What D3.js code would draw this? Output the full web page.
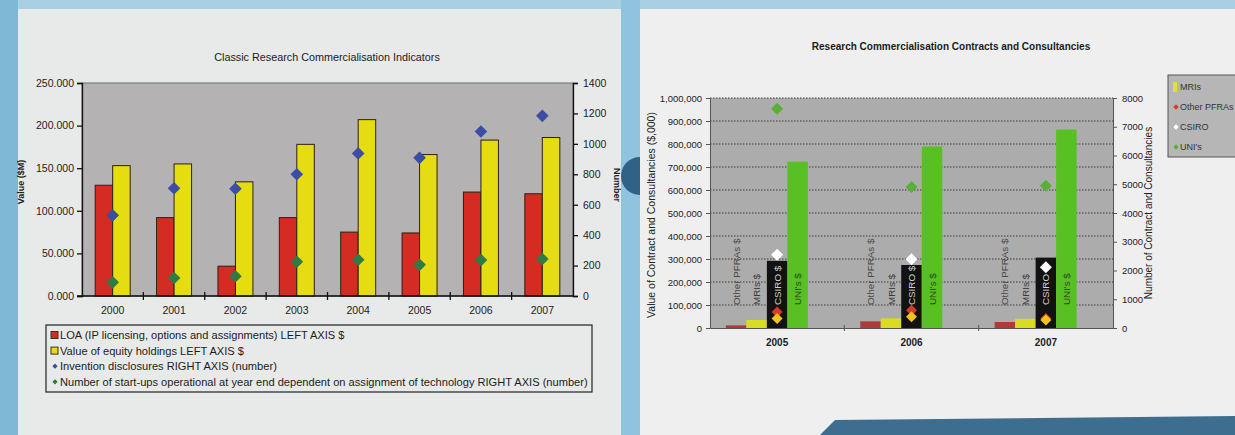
<!DOCTYPE html>
<html>
 <head>
  <meta charset="utf-8">
  <title>Research commercialisation charts</title>
  <script src="https://cdnjs.cloudflare.com/ajax/libs/d3/7.8.5/d3.min.js"></script>
  <style>
    body { margin: 0; background: #e9eaea; }
    svg { display: block; font-family: "Liberation Sans", Arial, sans-serif; }
  </style>
 </head>
 <body>
  <div id="page"></div>

  <script>
    // ---- chart 1 : classic indicators ----
    var years1 = ["2000", "2001", "2002", "2003", "2004", "2005", "2006", "2007"];
    var loa = [130, 92, 35, 92, 75, 74, 122, 120];               // $M, left axis
    var equity = [153, 155, 134, 178, 207, 166, 183, 186];       // $M, left axis
    var disclosures = [530, 708, 705, 800, 937, 908, 1081, 1184]; // number, right axis
    var startups = [90, 118, 130, 225, 238, 205, 236, 243];      // number, right axis
    var leftTicks1 = [0, 50, 100, 150, 200, 250];
    var rightTicks1 = [0, 200, 400, 600, 800, 1000, 1200, 1400];
    var legend1 = [
      "LOA (IP licensing, options and assignments) LEFT AXIS $",
      "Value of equity holdings LEFT AXIS $",
      "Invention disclosures RIGHT AXIS (number)",
      "Number of start-ups operational at year end dependent on assignment of technology RIGHT AXIS (number)"
    ];

    // ---- chart 2 : contracts and consultancies ----
    var years2 = ["2005", "2006", "2007"];
    var series2 = ["Other PFRAs", "MRIs", "CSIRO", "UNI's"];
    var barLabels2 = ["Other PFRAs $", "MRIs $", "CSIRO $", "UNI's $"];
    var otherValue = [11500, 29000, 26000];     // $,000
    var mriValue = [35000, 42000, 40000];
    var csiroValue = [292000, 274000, 306000];
    var uniValue = [723000, 789000, 863000];
    var otherCount = [560, 620, 330];           // number
    var mriCount = [330, 390, 280];
    var csiroCount = [2550, 2390, 2110];
    var uniCount = [7630, 4900, 4950];
    var leftTicks2 = [0, 100000, 200000, 300000, 400000, 500000, 600000, 700000, 800000, 900000, 1000000];
    var rightTicks2 = [0, 1000, 2000, 3000, 4000, 5000, 6000, 7000, 8000];
    var legend2 = ["MRIs", "Other PFRAs", "CSIRO", "UNI's"];

    var W = 1235, H = 435;
    var svg = d3.select("#page").append("svg")
                .attr("width", W).attr("height", H);

    // page background (scanned magazine page)
    svg.append("rect").attr("width", W).attr("height", H).attr("fill", "#e8e9e9");
    svg.append("rect").attr("x", 640).attr("width", W - 640).attr("height", H).attr("fill", "#efefef");
    svg.append("rect").attr("width", W).attr("height", 9).attr("fill", "#a9cfe3");
    svg.append("rect").attr("width", 18).attr("height", H).attr("fill", "#7db8d6");
    svg.append("rect").attr("x", 621).attr("width", 19).attr("height", H).attr("fill", "#8fc3de");
    svg.append("path").attr("d", d3.arc()({innerRadius: 0, outerRadius: 19, startAngle: Math.PI, endAngle: 2 * Math.PI}))
       .attr("transform", "translate(640,176)").attr("fill", "#2f6286");
    svg.append("path").attr("d", "M820,435 L835,420 L1235,416 L1235,435 Z").attr("fill", "#3d6e90");

    // =====================================================
    // chart 1
    // =====================================================
    var c1 = {left: 82, right: 573, top: 83, bottom: 296};
    var g1 = svg.append("g");

    var x1 = d3.scaleBand().domain(years1).range([c1.left, c1.right])
               .paddingInner(0.43).paddingOuter(0.215);
    var xSub1 = d3.scaleBand().domain(["loa", "equity"]).range([0, x1.bandwidth()]);
    var yL1 = d3.scaleLinear().domain([0, 250]).range([c1.bottom, c1.top]);
    var yR1 = d3.scaleLinear().domain([0, 1400]).range([c1.bottom, c1.top]);

    g1.append("text").attr("x", 327).attr("y", 61).attr("text-anchor", "middle")
      .attr("font-size", 10.8).attr("fill", "#222")
      .text("Classic Research Commercialisation Indicators");

    g1.append("rect").attr("x", c1.left).attr("y", c1.top)
      .attr("width", c1.right - c1.left).attr("height", c1.bottom - c1.top)
      .attr("fill", "#b4b2b3").attr("stroke", "#6d6d6d");

    var barData1 = [];
    years1.forEach(function(y, i) {
      barData1.push({year: y, key: "loa", v: loa[i], fill: "#d42b22"});
      barData1.push({year: y, key: "equity", v: equity[i], fill: "#e6dc12"});
    });
    g1.selectAll("rect.bar").data(barData1).enter().append("rect")
      .attr("class", "bar")
      .attr("x", function(d) { return x1(d.year) + xSub1(d.key); })
      .attr("y", function(d) { return yL1(d.v); })
      .attr("width", xSub1.bandwidth())
      .attr("height", function(d) { return yL1(0) - yL1(d.v); })
      .attr("fill", function(d) { return d.fill; })
      .attr("stroke", "#2a2018").attr("stroke-width", 1);

    var diamond1 = d3.symbol(d3.symbolSquare, 80);
    function drawDiamonds1(vals, color) {
      g1.selectAll(null).data(vals).enter().append("path")
        .attr("d", diamond1)
        .attr("transform", function(d, i) {
          return "translate(" + (x1(years1[i]) + x1.bandwidth() / 2) + "," + yR1(d) + ") rotate(45)";
        })
        .attr("fill", color);
    }
    drawDiamonds1(disclosures, "#3b4ea3");
    drawDiamonds1(startups, "#2f7a45");

    // axes
    var axL1 = g1.append("g").attr("transform", "translate(" + c1.left + ",0)")
      .call(d3.axisLeft(yL1).tickValues(leftTicks1).tickSize(5).tickPadding(3)
              .tickFormat(d3.format(".3f")));
    var axR1 = g1.append("g").attr("transform", "translate(" + c1.right + ",0)")
      .call(d3.axisRight(yR1).tickValues(rightTicks1).tickSize(5).tickPadding(5)
              .tickFormat(d3.format("d")));
    var axB1 = g1.append("g").attr("transform", "translate(0," + c1.bottom + ")")
      .call(d3.axisBottom(x1).tickSize(0).tickPadding(11));
    [axL1, axR1, axB1].forEach(function(a) {
      a.select(".domain").attr("stroke", "#111").attr("stroke-width", 1.3);
      a.selectAll("line").attr("stroke", "#111").attr("stroke-width", 1.3);
      a.selectAll("text").attr("font-size", 10.5).attr("fill", "#222");
    });
    axB1.select(".domain").attr("d", "M" + (c1.left - 5) + ",0H" + c1.right);
    g1.selectAll(null).data(years1.slice(1)).enter().append("line")
      .attr("x1", function(d) { return x1(d) - x1.step() * x1.paddingInner() / 2; })
      .attr("x2", function(d) { return x1(d) - x1.step() * x1.paddingInner() / 2; })
      .attr("y1", c1.bottom - 4).attr("y2", c1.bottom + 4)
      .attr("stroke", "#111").attr("stroke-width", 1.3);

    g1.append("text").attr("transform", "translate(24,182) rotate(-90)")
      .attr("text-anchor", "middle").attr("font-size", 9).attr("font-weight", "bold")
      .attr("fill", "#222").text("Value ($M)");
    g1.append("text").attr("transform", "translate(614,185) rotate(90)")
      .attr("text-anchor", "middle").attr("font-size", 9).attr("font-weight", "bold")
      .attr("fill", "#222").text("Number");

    // legend
    var lg1 = g1.append("g");
    lg1.append("rect").attr("x", 46).attr("y", 325).attr("width", 546).attr("height", 67)
       .attr("fill", "none").attr("stroke", "#222").attr("stroke-width", 1.2);
    var legMarks = [
      {shape: "sq", fill: "#d42b22"}, {shape: "sq", fill: "#e6dc12"},
      {shape: "di", fill: "#3b4ea3"}, {shape: "di", fill: "#2f7a45"}
    ];
    legend1.forEach(function(t, i) {
      var y = 335 + i * 15.6;
      if (legMarks[i].shape === "sq") {
        lg1.append("rect").attr("x", 51).attr("y", y - 3.5).attr("width", 7).attr("height", 7)
           .attr("fill", legMarks[i].fill).attr("stroke", "#333");
      } else {
        lg1.append("path").attr("d", d3.symbol(d3.symbolSquare, 14))
           .attr("transform", "translate(55," + y + ") rotate(45)").attr("fill", legMarks[i].fill);
      }
      lg1.append("text").attr("x", 60).attr("y", y + 4).attr("font-size", 11.1)
         .attr("fill", "#1c1c1c").text(t);
    });

    // =====================================================
    // chart 2
    // =====================================================
    var c2 = {left: 710, right: 1113, top: 98, bottom: 328};
    var g2 = svg.append("g");

    var x2 = d3.scaleBand().domain(years2).range([c2.left, c2.right])
               .paddingInner(0.237).paddingOuter(0.118);
    var slots = series2.concat([""]);
    var xSub2 = d3.scaleBand().domain(slots).range([0, x2.bandwidth()]);
    var yL2 = d3.scaleLinear().domain([0, 1000000]).range([c2.bottom, c2.top]);
    var yR2 = d3.scaleLinear().domain([0, 8000]).range([c2.bottom, c2.top]);

    g2.append("text").attr("x", 951).attr("y", 50).attr("text-anchor", "middle")
      .attr("font-size", 10).attr("font-weight", "bold").attr("fill", "#1c1c1c")
      .text("Research Commercialisation Contracts and Consultancies");

    g2.append("rect").attr("x", c2.left).attr("y", c2.top)
      .attr("width", c2.right - c2.left).attr("height", c2.bottom - c2.top)
      .attr("fill", "#adacac");

    g2.selectAll("line.grid").data(leftTicks2.slice(1)).enter().append("line")
      .attr("class", "grid")
      .attr("x1", c2.left).attr("x2", c2.right)
      .attr("y1", function(d) { return yL2(d); }).attr("y2", function(d) { return yL2(d); })
      .attr("stroke", "#3a3a3a").attr("stroke-width", 1).attr("stroke-dasharray", "1.5,1.5");

    var values2 = [otherValue, mriValue, csiroValue, uniValue];
    var fills2 = ["#b23a36", "#d9dc22", "#121212", "#58c022"];
    var labelFills2 = ["#4a4a4a", "#3a3a3a", "#d0d0d0", "#2d4a22"];
    var barData2 = [];
    years2.forEach(function(y, i) {
      series2.forEach(function(s, j) {
        barData2.push({year: y, s: s, j: j, v: values2[j][i]});
      });
    });
    g2.selectAll("rect.bar").data(barData2).enter().append("rect")
      .attr("class", "bar")
      .attr("x", function(d) { return x2(d.year) + xSub2(d.s); })
      .attr("y", function(d) { return yL2(d.v); })
      .attr("width", xSub2.bandwidth())
      .attr("height", function(d) { return yL2(0) - yL2(d.v); })
      .attr("fill", function(d) { return fills2[d.j]; });

    g2.selectAll("text.blab").data(barData2).enter().append("text")
      .attr("class", "blab")
      .attr("transform", function(d) {
        return "translate(" + (x2(d.year) + xSub2(d.s) + xSub2.bandwidth() / 2 + 3.6) + "," + (yL2(0) - 23) + ") rotate(-90)";
      })
      .attr("font-size", 9.8).attr("fill", function(d) { return labelFills2[d.j]; })
      .text(function(d) { return barLabels2[d.j]; });

    var counts2 = [uniCount, csiroCount, otherCount, mriCount];
    var cFills2 = ["#5aae3a", "#ffffff", "#d83a28", "#f0c41a"];
    var cSizes2 = [72, 72, 60, 60];
    counts2.forEach(function(arr, k) {
      g2.selectAll(null).data(arr).enter().append("path")
        .attr("d", d3.symbol(d3.symbolSquare, cSizes2[k]))
        .attr("transform", function(d, i) {
          return "translate(" + (x2(years2[i]) + x2.bandwidth() / 2) + "," + yR2(d) + ") rotate(45)";
        })
        .attr("fill", cFills2[k]);
    });

    var axL2 = g2.append("g").attr("transform", "translate(" + c2.left + ",0)")
      .call(d3.axisLeft(yL2).tickValues(leftTicks2).tickSize(4).tickPadding(4)
              .tickFormat(d3.format(",")));
    var axR2 = g2.append("g").attr("transform", "translate(" + c2.right + ",0)")
      .call(d3.axisRight(yR2).tickValues(rightTicks2).tickSize(4).tickPadding(5)
              .tickFormat(d3.format("d")));
    var axB2 = g2.append("g").attr("transform", "translate(0," + c2.bottom + ")")
      .call(d3.axisBottom(x2).tickSize(0).tickPadding(11));
    [axL2, axR2, axB2].forEach(function(a) {
      a.select(".domain").attr("stroke", "#555").attr("stroke-width", 1);
      a.selectAll("line").attr("stroke", "#555");
      a.selectAll("text").attr("font-size", 9.5).attr("fill", "#222");
    });
    axB2.selectAll("text").attr("font-weight", "bold").attr("font-size", 10);
    g2.selectAll(null).data(years2.slice(1)).enter().append("line")
      .attr("x1", function(d) { return x2(d) - x2.step() * x2.paddingInner() / 2; })
      .attr("x2", function(d) { return x2(d) - x2.step() * x2.paddingInner() / 2; })
      .attr("y1", c2.bottom - 3).attr("y2", c2.bottom + 3)
      .attr("stroke", "#555");

    g2.append("text").attr("transform", "translate(655,215) rotate(-90)")
      .attr("text-anchor", "middle").attr("font-size", 10.5).attr("fill", "#222")
      .text("Value of Contract and Consultancies ($,000)");
    g2.append("text").attr("transform", "translate(1152,213) rotate(-90)")
      .attr("text-anchor", "middle").attr("font-size", 10).attr("fill", "#222")
      .text("Number of Contract and Consultancies");

    // legend (cut by the page edge)
    var lg2 = g2.append("g");
    lg2.append("rect").attr("x", 1168).attr("y", 75).attr("width", 90).attr("height", 82)
       .attr("fill", "#b6b6b6").attr("stroke", "#555");
    var lgFills2 = ["#e4e02a", "#d83a28", "#ffffff", "#5aae3a"];
    legend2.forEach(function(t, i) {
      var y = 87 + i * 20;
      if (i === 0) {
        lg2.append("rect").attr("x", 1173).attr("y", y - 5).attr("width", 4).attr("height", 10)
           .attr("fill", lgFills2[i]);
      } else {
        lg2.append("path").attr("d", d3.symbol(d3.symbolSquare, 14))
           .attr("transform", "translate(1176," + y + ") rotate(45)").attr("fill", lgFills2[i]);
      }
      lg2.append("text").attr("x", 1180).attr("y", y + 3).attr("font-size", 9)
         .attr("fill", "#333").text(t);
    });
  </script>
 </body>
</html>
